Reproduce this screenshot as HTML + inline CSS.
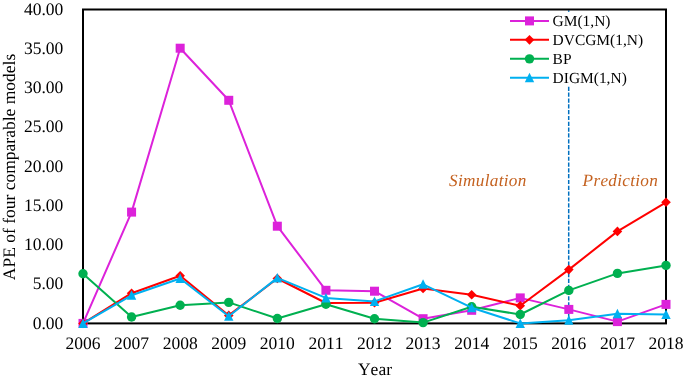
<!DOCTYPE html>
<html><head><meta charset="utf-8"><style>
html,body{margin:0;padding:0;background:#fff;}
body{width:685px;height:379px;overflow:hidden;}
svg{display:block;will-change:transform;}
text{font-family:"Liberation Serif",serif;fill:#000;font-kerning:none;text-rendering:geometricPrecision;}
.ax{font-size:17.5px;}
.lg{font-size:15.45px;}
.it{font-size:17.2px;letter-spacing:0.3px;font-style:italic;fill:#C4611F;}
</style></head><body>
<svg width="685" height="379" viewBox="0 0 685 379">
<line x1="568.70" y1="86.8" x2="568.70" y2="322.4" stroke="#0070C0" stroke-width="1.5" stroke-dasharray="4.2,1.62"/>
<line x1="568.70" y1="10.3" x2="568.70" y2="11.8" stroke="#0070C0" stroke-width="1.5"/>
<rect x="83.0" y="9.5" width="583.0" height="313.9" fill="none" stroke="#000" stroke-width="2"/>
<text x="449.1" y="185.6" class="it">Simulation</text>
<text x="582.6" y="185.6" class="it">Prediction</text>
<polyline points="83.00,323.40 131.58,212.10 180.17,48.20 228.75,100.30 277.33,226.20 325.92,290.30 374.50,291.20 423.08,318.70 471.67,310.30 520.25,297.90 568.83,309.40 617.42,321.60 666.00,304.40" fill="none" stroke="#DC22DA" stroke-width="2.0" stroke-linejoin="round" stroke-linecap="round"/>
<rect x="78.50" y="318.90" width="9.0" height="9.0" fill="#DC22DA"/>
<rect x="127.08" y="207.60" width="9.0" height="9.0" fill="#DC22DA"/>
<rect x="175.67" y="43.70" width="9.0" height="9.0" fill="#DC22DA"/>
<rect x="224.25" y="95.80" width="9.0" height="9.0" fill="#DC22DA"/>
<rect x="272.83" y="221.70" width="9.0" height="9.0" fill="#DC22DA"/>
<rect x="321.42" y="285.80" width="9.0" height="9.0" fill="#DC22DA"/>
<rect x="370.00" y="286.70" width="9.0" height="9.0" fill="#DC22DA"/>
<rect x="418.58" y="314.20" width="9.0" height="9.0" fill="#DC22DA"/>
<rect x="467.17" y="305.80" width="9.0" height="9.0" fill="#DC22DA"/>
<rect x="515.75" y="293.40" width="9.0" height="9.0" fill="#DC22DA"/>
<rect x="564.33" y="304.90" width="9.0" height="9.0" fill="#DC22DA"/>
<rect x="612.92" y="317.10" width="9.0" height="9.0" fill="#DC22DA"/>
<rect x="661.50" y="299.90" width="9.0" height="9.0" fill="#DC22DA"/>
<polyline points="83.00,323.40 131.58,293.20 180.17,275.70 228.75,315.40 277.33,278.50 325.92,303.00 374.50,302.70 423.08,288.50 471.67,294.80 520.25,305.80 568.83,269.60 617.42,231.40 666.00,202.30" fill="none" stroke="#FF0000" stroke-width="2.0" stroke-linejoin="round" stroke-linecap="round"/>
<path d="M83.00 318.60L87.80 323.40L83.00 328.20L78.20 323.40Z" fill="#FF0000"/>
<path d="M131.58 288.40L136.38 293.20L131.58 298.00L126.78 293.20Z" fill="#FF0000"/>
<path d="M180.17 270.90L184.97 275.70L180.17 280.50L175.37 275.70Z" fill="#FF0000"/>
<path d="M228.75 310.60L233.55 315.40L228.75 320.20L223.95 315.40Z" fill="#FF0000"/>
<path d="M277.33 273.70L282.13 278.50L277.33 283.30L272.53 278.50Z" fill="#FF0000"/>
<path d="M325.92 298.20L330.72 303.00L325.92 307.80L321.12 303.00Z" fill="#FF0000"/>
<path d="M374.50 297.90L379.30 302.70L374.50 307.50L369.70 302.70Z" fill="#FF0000"/>
<path d="M423.08 283.70L427.88 288.50L423.08 293.30L418.28 288.50Z" fill="#FF0000"/>
<path d="M471.67 290.00L476.47 294.80L471.67 299.60L466.87 294.80Z" fill="#FF0000"/>
<path d="M520.25 301.00L525.05 305.80L520.25 310.60L515.45 305.80Z" fill="#FF0000"/>
<path d="M568.83 264.80L573.63 269.60L568.83 274.40L564.03 269.60Z" fill="#FF0000"/>
<path d="M617.42 226.60L622.22 231.40L617.42 236.20L612.62 231.40Z" fill="#FF0000"/>
<path d="M666.00 197.50L670.80 202.30L666.00 207.10L661.20 202.30Z" fill="#FF0000"/>
<polyline points="83.00,273.70 131.58,317.00 180.17,305.30 228.75,302.40 277.33,318.50 325.92,304.20 374.50,318.70 423.08,322.60 471.67,306.80 520.25,314.50 568.83,290.40 617.42,273.40 666.00,265.40" fill="none" stroke="#00B050" stroke-width="2.0" stroke-linejoin="round" stroke-linecap="round"/>
<circle cx="83.00" cy="273.70" r="4.70" fill="#00B050"/>
<circle cx="131.58" cy="317.00" r="4.70" fill="#00B050"/>
<circle cx="180.17" cy="305.30" r="4.70" fill="#00B050"/>
<circle cx="228.75" cy="302.40" r="4.70" fill="#00B050"/>
<circle cx="277.33" cy="318.50" r="4.70" fill="#00B050"/>
<circle cx="325.92" cy="304.20" r="4.70" fill="#00B050"/>
<circle cx="374.50" cy="318.70" r="4.70" fill="#00B050"/>
<circle cx="423.08" cy="322.60" r="4.70" fill="#00B050"/>
<circle cx="471.67" cy="306.80" r="4.70" fill="#00B050"/>
<circle cx="520.25" cy="314.50" r="4.70" fill="#00B050"/>
<circle cx="568.83" cy="290.40" r="4.70" fill="#00B050"/>
<circle cx="617.42" cy="273.40" r="4.70" fill="#00B050"/>
<circle cx="666.00" cy="265.40" r="4.70" fill="#00B050"/>
<polyline points="83.00,323.40 131.58,295.30 180.17,278.50 228.75,316.30 277.33,277.90 325.92,297.90 374.50,301.40 423.08,284.30 471.67,307.70 520.25,323.40 568.83,320.30 617.42,313.70 666.00,314.60" fill="none" stroke="#00B0F0" stroke-width="2.0" stroke-linejoin="round" stroke-linecap="round"/>
<path d="M83.00 318.40L87.70 327.90L78.30 327.90Z" fill="#00B0F0"/>
<path d="M131.58 290.30L136.28 299.80L126.88 299.80Z" fill="#00B0F0"/>
<path d="M180.17 273.50L184.87 283.00L175.47 283.00Z" fill="#00B0F0"/>
<path d="M228.75 311.30L233.45 320.80L224.05 320.80Z" fill="#00B0F0"/>
<path d="M277.33 272.90L282.03 282.40L272.63 282.40Z" fill="#00B0F0"/>
<path d="M325.92 292.90L330.62 302.40L321.22 302.40Z" fill="#00B0F0"/>
<path d="M374.50 296.40L379.20 305.90L369.80 305.90Z" fill="#00B0F0"/>
<path d="M423.08 279.30L427.78 288.80L418.38 288.80Z" fill="#00B0F0"/>
<path d="M471.67 302.70L476.37 312.20L466.97 312.20Z" fill="#00B0F0"/>
<path d="M520.25 318.40L524.95 327.90L515.55 327.90Z" fill="#00B0F0"/>
<path d="M568.83 315.30L573.53 324.80L564.13 324.80Z" fill="#00B0F0"/>
<path d="M617.42 308.70L622.12 318.20L612.72 318.20Z" fill="#00B0F0"/>
<path d="M666.00 309.60L670.70 319.10L661.30 319.10Z" fill="#00B0F0"/>
<text x="63.3" y="328.50" class="ax" text-anchor="end">0.00</text>
<text x="63.3" y="289.26" class="ax" text-anchor="end">5.00</text>
<text x="63.3" y="250.02" class="ax" text-anchor="end">10.00</text>
<text x="63.3" y="210.79" class="ax" text-anchor="end">15.00</text>
<text x="63.3" y="171.55" class="ax" text-anchor="end">20.00</text>
<text x="63.3" y="132.31" class="ax" text-anchor="end">25.00</text>
<text x="63.3" y="93.07" class="ax" text-anchor="end">30.00</text>
<text x="63.3" y="53.84" class="ax" text-anchor="end">35.00</text>
<text x="63.3" y="14.60" class="ax" text-anchor="end">40.00</text>
<text x="83.00" y="349.3" class="ax" text-anchor="middle">2006</text>
<text x="131.58" y="349.3" class="ax" text-anchor="middle">2007</text>
<text x="180.17" y="349.3" class="ax" text-anchor="middle">2008</text>
<text x="228.75" y="349.3" class="ax" text-anchor="middle">2009</text>
<text x="277.33" y="349.3" class="ax" text-anchor="middle">2010</text>
<text x="325.92" y="349.3" class="ax" text-anchor="middle">2011</text>
<text x="374.50" y="349.3" class="ax" text-anchor="middle">2012</text>
<text x="423.08" y="349.3" class="ax" text-anchor="middle">2013</text>
<text x="471.67" y="349.3" class="ax" text-anchor="middle">2014</text>
<text x="520.25" y="349.3" class="ax" text-anchor="middle">2015</text>
<text x="568.83" y="349.3" class="ax" text-anchor="middle">2016</text>
<text x="617.42" y="349.3" class="ax" text-anchor="middle">2017</text>
<text x="666.00" y="349.3" class="ax" text-anchor="middle">2018</text>
<text x="375" y="375.3" class="ax" text-anchor="middle">Year</text>
<text transform="translate(14.8,167) rotate(-90)" class="ax" text-anchor="middle">APE of four comparable models</text>
<line x1="510" y1="20.90" x2="549" y2="20.90" stroke="#DC22DA" stroke-width="2.0"/>
<rect x="525.00" y="16.40" width="9.0" height="9.0" fill="#DC22DA"/>
<text x="552.6" y="25.80" class="lg">GM(1,N)</text>
<line x1="510" y1="39.87" x2="549" y2="39.87" stroke="#FF0000" stroke-width="2.0"/>
<path d="M529.50 35.07L534.30 39.87L529.50 44.67L524.70 39.87Z" fill="#FF0000"/>
<text x="552.6" y="44.77" class="lg">DVCGM(1,N)</text>
<line x1="510" y1="58.84" x2="549" y2="58.84" stroke="#00B050" stroke-width="2.0"/>
<circle cx="529.50" cy="58.84" r="4.70" fill="#00B050"/>
<text x="552.6" y="63.74" class="lg">BP</text>
<line x1="510" y1="77.81" x2="549" y2="77.81" stroke="#00B0F0" stroke-width="2.0"/>
<path d="M529.50 72.81L534.20 82.31L524.80 82.31Z" fill="#00B0F0"/>
<text x="552.6" y="82.71" class="lg">DIGM(1,N)</text>
</svg>
</body></html>
